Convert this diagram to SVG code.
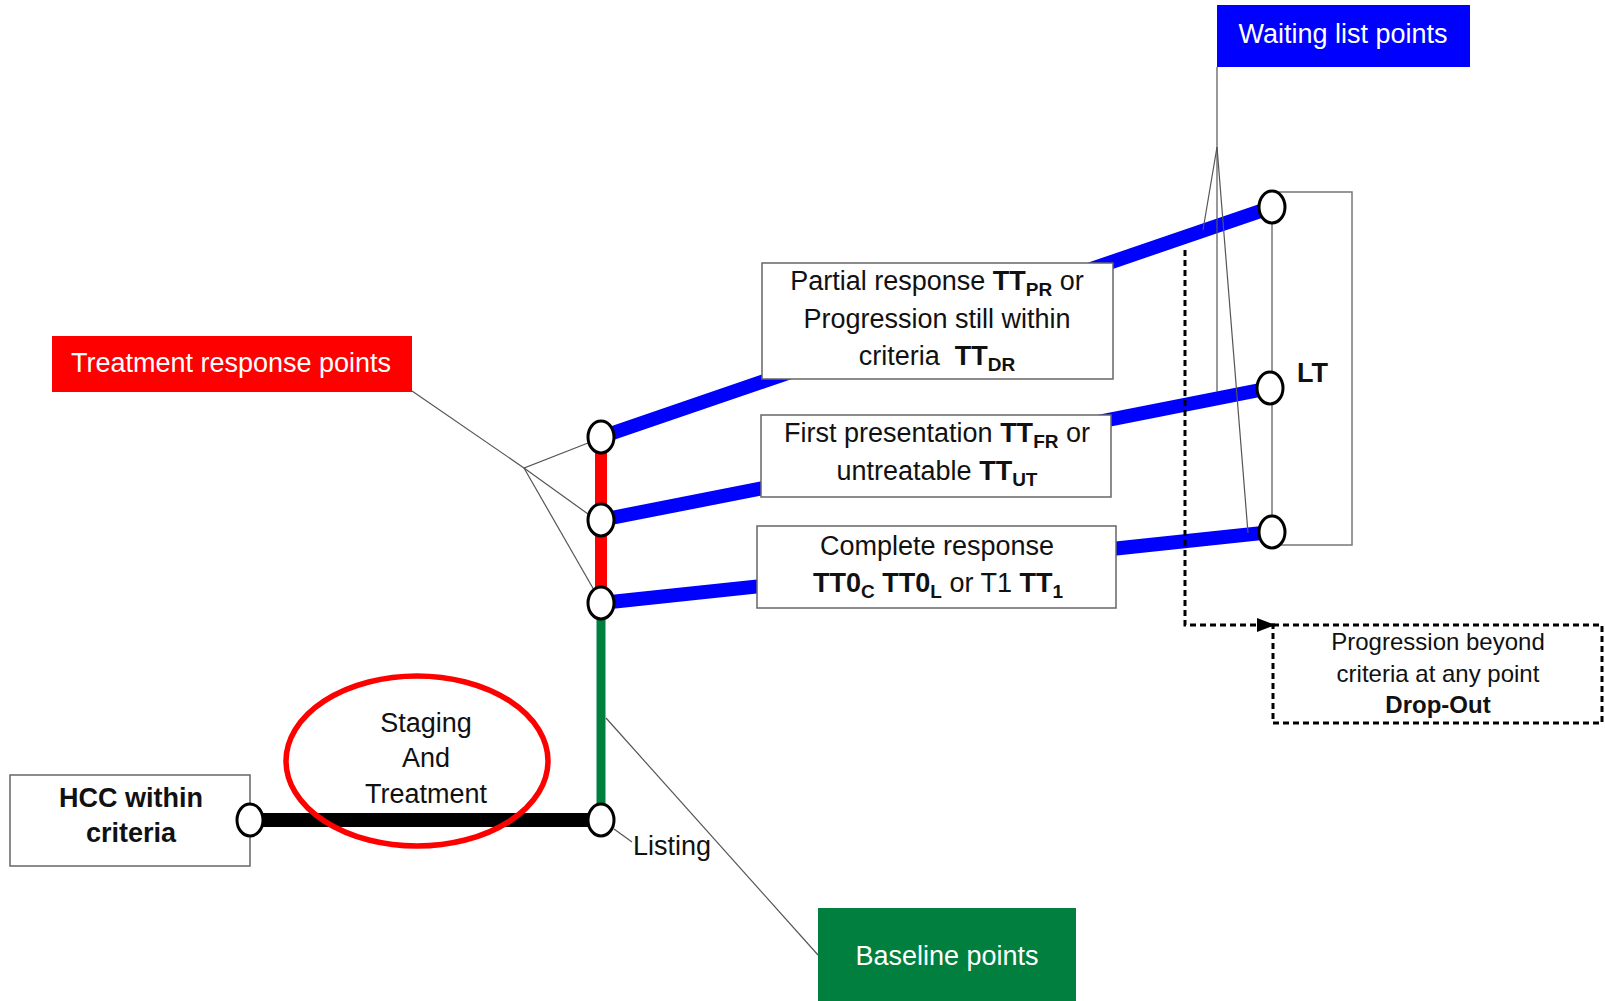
<svg xmlns="http://www.w3.org/2000/svg" width="1605" height="1001" viewBox="0 0 1605 1001">
<style>
text{font-family:"Liberation Sans",Arial,sans-serif;font-size:27px;fill:#111}
.c{text-anchor:middle}
.b{font-weight:bold}
.w{fill:#fff}
.sub{font-size:19px;font-weight:bold}
.box{fill:#fff;stroke:#666;stroke-width:1.5}
.thin{fill:none;stroke:#555;stroke-width:1.2}
.node{fill:#fff;stroke:#000;stroke-width:3}
.dot{fill:none;stroke:#000;stroke-width:3;stroke-dasharray:6 4}
</style>
<defs>
<marker id="ah" markerWidth="20" markerHeight="14" refX="18" refY="7" orient="auto" markerUnits="userSpaceOnUse">
<path d="M0,0 L18,7 L0,14 Z" fill="#000"/>
</marker>
</defs>
<rect width="1605" height="1001" fill="#fff"/>

<g id="connectors">
<line x1="250" y1="820" x2="601" y2="820" stroke="#000" stroke-width="14"/>
<line x1="601" y1="820" x2="601" y2="603" stroke="#007f3e" stroke-width="9"/>
<line x1="601" y1="603" x2="601" y2="437" stroke="#ff0000" stroke-width="12"/>
<line x1="601" y1="437" x2="1272" y2="207" stroke="#0000ff" stroke-width="14"/>
<line x1="601" y1="520" x2="1270" y2="388" stroke="#0000ff" stroke-width="14"/>
<line x1="601" y1="603" x2="1272" y2="532" stroke="#0000ff" stroke-width="14"/>
<rect x="1272" y="192" width="80" height="353" fill="none" stroke="#777" stroke-width="1.5"/>
<polyline class="dot" points="1185,250 1185,625 1275,625" marker-end="url(#ah)"/>
<polyline class="thin" points="412,391 524,468 588,443"/>
<line class="thin" x1="524" y1="468" x2="588" y2="514"/>
<line class="thin" x1="524" y1="468" x2="594" y2="590"/>
<polyline class="thin" points="1217,67 1217,147 1203,230"/>
<line class="thin" x1="1217" y1="147" x2="1217" y2="392"/>
<line class="thin" x1="1217" y1="147" x2="1248" y2="533"/>
<line class="thin" x1="606" y1="718" x2="818" y2="955"/>
<line class="thin" x1="614" y1="829" x2="632" y2="842"/>
</g>

<g id="hcc">
<rect class="box" x="10" y="775" width="240" height="91"/>
<text class="c b" x="131" y="807">HCC within</text>
<text class="c b" x="131" y="842">criteria</text>
</g>

<g id="staging">
<ellipse cx="417" cy="761" rx="131" ry="85" fill="none" stroke="#ff0000" stroke-width="5.5"/>
<text class="c" x="426" y="732">Staging</text>
<text class="c" x="426" y="767">And</text>
<text class="c" x="426" y="803">Treatment</text>
</g>

<g id="listing">
<text x="633" y="855">Listing</text>
</g>

<g id="partial">
<rect class="box" x="762" y="263" width="351" height="116"/>
<text class="c" x="937" y="290">Partial response <tspan class="b">TT</tspan><tspan class="sub" dy="6">PR</tspan><tspan dy="-6"> or</tspan></text>
<text class="c" x="937" y="328">Progression still within</text>
<text class="c" x="937" y="365" xml:space="preserve">criteria  <tspan class="b">TT</tspan><tspan class="sub" dy="6">DR</tspan></text>
</g>

<g id="first">
<rect class="box" x="761" y="415" width="350" height="82"/>
<text class="c" x="937" y="442">First presentation <tspan class="b">TT</tspan><tspan class="sub" dy="6">FR</tspan><tspan dy="-6"> or</tspan></text>
<text class="c" x="937" y="480">untreatable <tspan class="b">TT</tspan><tspan class="sub" dy="6">UT</tspan></text>
</g>

<g id="complete">
<rect class="box" x="757" y="526" width="359" height="82"/>
<text class="c" x="937" y="555">Complete response</text>
<text class="c" x="938" y="592"><tspan class="b">TT0</tspan><tspan class="sub" dy="6">C</tspan><tspan class="b" dy="-6"> TT0</tspan><tspan class="sub" dy="6">L</tspan><tspan dy="-6"> or T1 </tspan><tspan class="b">TT</tspan><tspan class="sub" dy="6">1</tspan></text>
</g>

<g id="nodes">
<ellipse class="node" cx="250" cy="820" rx="13" ry="16"/>
<ellipse class="node" cx="601" cy="820" rx="13" ry="16"/>
<ellipse class="node" cx="601" cy="437" rx="13" ry="16"/>
<ellipse class="node" cx="601" cy="520" rx="13" ry="16"/>
<ellipse class="node" cx="601" cy="603" rx="13" ry="16"/>
<ellipse class="node" cx="1272" cy="207" rx="13" ry="16"/>
<ellipse class="node" cx="1270" cy="388" rx="13" ry="16"/>
<ellipse class="node" cx="1272" cy="532" rx="13" ry="16"/>
</g>

<g id="lt">
<text class="b" x="1297" y="382">LT</text>
</g>

<g id="dropout">
<rect class="dot" x="1273" y="625" width="329" height="98"/>
<text class="c" x="1438" y="650" style="font-size:24px">Progression beyond</text>
<text class="c" x="1438" y="682" style="font-size:24px">criteria at any point</text>
<text class="c b" x="1438" y="713" style="font-size:24px">Drop-Out</text>
</g>

<g id="waiting-list-points">
<rect x="1217" y="5" width="253" height="62" fill="#0000ff"/>
<text class="c w" x="1343" y="43">Waiting list points</text>
</g>

<g id="treatment-response-points">
<rect x="52" y="336" width="360" height="56" fill="#ff0000"/>
<text class="c w" x="231" y="372">Treatment response points</text>
</g>

<g id="baseline-points">
<rect x="818" y="908" width="258" height="100" fill="#007f3e"/>
<text class="c w" x="947" y="965">Baseline points</text>
</g>
</svg>
